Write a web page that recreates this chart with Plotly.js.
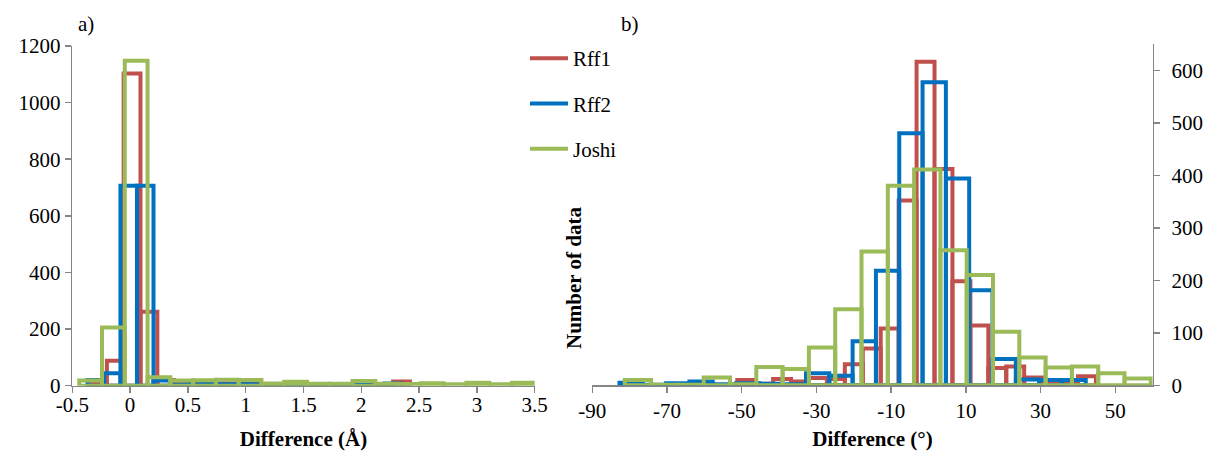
<!DOCTYPE html>
<html><head><meta charset="utf-8">
<script src="https://cdn.plot.ly/plotly-3.0.1.min.js"></script>
<style>html,body{margin:0;padding:0;background:#fff}#chart{width:1206px;height:451px}</style>
</head><body><div id="chart"></div>
<script>
// ---------------- data ----------------
const seriesNames = ['Rff1', 'Rff2', 'Joshi'];

// Panel a) : Difference (Å) — histogram bin centres, bin widths and counts
const binsA_Rff1 = [-0.274, -0.128, 0.017, 0.163, 0.309, 0.454, 0.600, 0.746, 0.891, 1.037, 1.183, 1.328, 1.474, 1.620, 1.765, 1.911, 2.057, 2.202, 2.348];
const countsA_Rff1 = [12, 88, 1103, 261, 20, 10, 8, 8, 8, 7, 4, 3, 4, 3, 2, 2, 3, 4, 15];
const widthA_Rff1 = 0.1457;

const binsA_Rff2 = [-0.297, -0.155, -0.012, 0.131, 0.273, 0.416, 0.559, 0.702, 0.844, 0.987, 1.130, 1.272, 1.415, 1.558, 1.700, 1.843, 1.986, 2.129, 2.271];
const countsA_Rff2 = [20, 44, 706, 706, 18, 3, 5, 5, 5, 5, 4, 1, 4, 1, 1, 6, 6, 1, 8];
const widthA_Rff2 = 0.1427;

const binsA_Joshi = [-0.3415, -0.1445, 0.0525, 0.2495, 0.4465, 0.6435, 0.8405, 1.0375, 1.2345, 1.4315, 1.6285, 1.8255, 2.0225, 2.2195, 2.4165, 2.6135, 2.8105, 3.0075, 3.2045, 3.4015];
const countsA_Joshi = [18, 206, 1148, 30, 18, 19, 21, 20, 8, 14, 7, 7, 17, 7, 6, 9, 5, 10, 5, 10];
const widthA_Joshi = 0.197;

// Panel b) : Difference (°)
const binsB_Rff1 = [-48.8, -44.0, -39.2, -34.4, -29.6, -24.8, -20.0, -15.2, -10.4, -5.6, -0.8, 4.0, 8.8, 13.6, 18.4, 23.2, 28.0, 32.8, 37.6, 42.4];
const countsB_Rff1 = [10, 3, 12, 7, 14, 12, 40, 70, 108, 352, 616, 412, 198, 114, 33, 36, 15, 8, 6, 17];
const widthB_Rff1 = 4.8;

const binsB_Rff2 = [-79.6, -73.36, -67.12, -60.88, -54.64, -48.4, -42.16, -35.92, -29.68, -23.44, -17.2, -10.96, -4.72, 1.52, 7.76, 14.0, 20.24, 26.48, 32.72, 38.96];
const countsB_Rff2 = [5, 1, 4, 7, 2, 4, 3, 2, 23, 18, 84, 218, 480, 577, 394, 181, 50, 11, 10, 10];
const widthB_Rff2 = 6.24;

const binsB_Joshi = [-77.78, -70.74, -63.70, -56.66, -49.62, -42.58, -35.54, -28.50, -21.46, -14.42, -7.38, -0.34, 6.70, 13.74, 20.78, 27.82, 34.86, 41.90, 48.94, 55.98];
const countsB_Joshi = [10, 1, 1, 15, 2, 35, 31, 72, 145, 255, 380, 411, 257, 210, 102, 53, 34, 36, 23, 13];
const widthB_Joshi = 7.04;

// tick labels
const xTickValsA = [-0.5, 0, 0.5, 1, 1.5, 2, 2.5, 3, 3.5];
const xTickTextA = ['-0.5', '0', '0.5', '1', '1.5', '2', '2.5', '3', '3.5'];
const xTickValsB = [-90, -70, -50, -30, -10, 10, 30, 50];
const xTickTextB = ['-90', '-70', '-50', '-30', '-10', '10', '30', '50'];

// ---------------- styles ----------------
const colors = ['#C0504D', '#0070C0', '#9BBB59'];
const FONT = 'Liberation Serif, Times New Roman, serif';
const axisGray = '#868686';

function barTrace(x, y, w, ci, xa, ya) {
  return {
    type: 'bar', x: x, y: y, width: w, xaxis: xa, yaxis: ya,
    marker: {color: 'rgba(0,0,0,0)', line: {color: colors[ci], width: 4}},
    showlegend: false, hoverinfo: 'skip', cliponaxis: false
  };
}

const traces = [
  barTrace(binsA_Rff1, countsA_Rff1, widthA_Rff1, 0, 'x', 'y'),
  barTrace(binsA_Rff2, countsA_Rff2, widthA_Rff2, 1, 'x', 'y'),
  barTrace(binsA_Joshi, countsA_Joshi, widthA_Joshi, 2, 'x', 'y'),
  barTrace(binsB_Rff1, countsB_Rff1, widthB_Rff1, 0, 'x2', 'y2'),
  barTrace(binsB_Rff2, countsB_Rff2, widthB_Rff2, 1, 'x2', 'y2'),
  barTrace(binsB_Joshi, countsB_Joshi, widthB_Joshi, 2, 'x2', 'y2')
];
seriesNames.forEach(function (n, i) {
  traces.push({
    type: 'scatter', mode: 'lines', x: [null], y: [null], name: n,
    legendgroup: n, line: {color: colors[i], width: 4},
    xaxis: 'x2', yaxis: 'y2', hoverinfo: 'skip'
  });
});

const tickFont = {family: FONT, size: 21, color: '#000'};
const titleFont = {family: FONT, size: 21, color: '#000', weight: 'bold'};
const commonAxis = {
  showline: true, linecolor: axisGray, linewidth: 1.5, ticks: 'outside',
  ticklen: 6, tickwidth: 1.5, tickcolor: axisGray, showgrid: false,
  zeroline: false, tickfont: tickFont, layer: 'below traces', fixedrange: true
};

const W = 1206, H = 451;
const layout = {
  width: W, height: H,
  margin: {l: 0, r: 0, t: 0, b: 0},
  paper_bgcolor: '#fff', plot_bgcolor: 'rgba(0,0,0,0)',
  barmode: 'overlay',
  showlegend: true,
  legend: {
    x: 525 / W, xanchor: 'left', y: 1 - 38 / H, yanchor: 'top',
    font: {family: FONT, size: 21, color: '#000'},
    itemwidth: 38, tracegroupgap: 15, traceorder: 'grouped',
    bgcolor: 'rgba(0,0,0,0)', borderwidth: 0
  },
  xaxis: Object.assign({}, commonAxis, {
    domain: [72.3 / W, 534.7 / W], range: [-0.5, 3.5], anchor: 'y',
    tickmode: 'array', tickvals: xTickValsA, ticktext: xTickTextA,
    ticklabelstandoff: -6,
    title: {text: 'Difference (Å)', font: titleFont, standoff: 17}
  }),
  yaxis: Object.assign({}, commonAxis, {
    domain: [1 - 385.7 / H, 1 - 46 / H], range: [0, 1200], anchor: 'x',
    tickmode: 'linear', tick0: 0, dtick: 200
  }),
  xaxis2: Object.assign({}, commonAxis, {
    domain: [592.3 / W, 1152.7 / W], range: [-90, 60], anchor: 'y2',
    tickmode: 'array', tickvals: xTickValsB, ticktext: xTickTextB,
    title: {text: 'Difference (°)', font: titleFont, standoff: 29}
  }),
  yaxis2: Object.assign({}, commonAxis, {
    domain: [1 - 385.3 / H, 1 - 44 / H], range: [0, 650], anchor: 'x2',
    side: 'right', tickmode: 'linear', tick0: 0, dtick: 100,
    ticklabelstandoff: 7
  }),
  annotations: [
    {text: 'a)', xref: 'paper', yref: 'paper', x: 86 / W, y: 1 - 24 / H,
     xanchor: 'center', yanchor: 'middle',
     showarrow: false, font: {family: FONT, size: 21, color: '#000'}},
    {text: 'b)', xref: 'paper', yref: 'paper', x: 630 / W, y: 1 - 24 / H,
     xanchor: 'center', yanchor: 'middle',
     showarrow: false, font: {family: FONT, size: 21, color: '#000'}},
    {text: 'Number of data', xref: 'paper', yref: 'paper', x: 574 / W, y: 1 - 278 / H,
     xanchor: 'center', yanchor: 'middle',
     textangle: -90, showarrow: false, font: titleFont}
  ]
};

Plotly.newPlot('chart', traces, layout, {staticPlot: true, displayModeBar: false});
</script>
</body></html>
